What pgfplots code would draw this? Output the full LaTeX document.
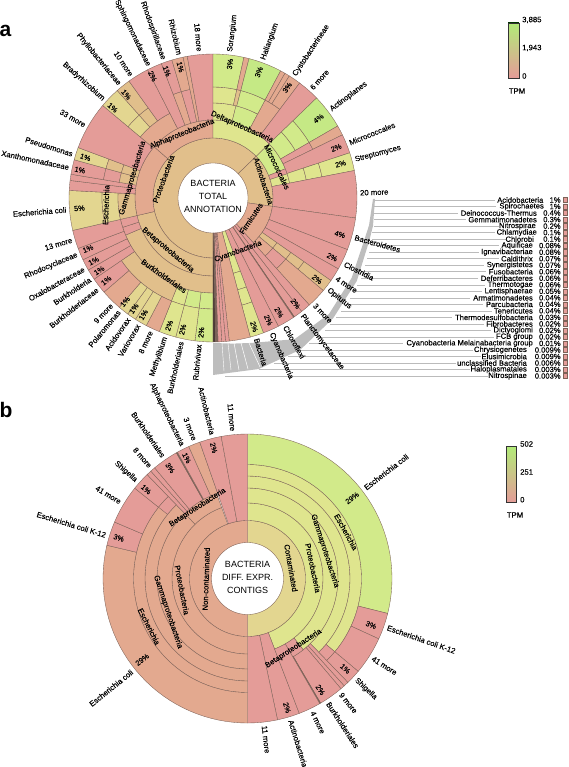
\documentclass[border=0pt]{standalone}
\usepackage{pgfplots}
\pgfplotsset{compat=1.18}
\usepackage{fontspec}
\setmainfont{Liberation Sans}
\newfontfamily\lf[FakeBold=0.2]{Liberation Sans}
\definecolor{ln}{HTML}{7D6258}
\definecolor{cR}{HTML}{E49C98}
\definecolor{cS}{HTML}{E3A98F}
\definecolor{cT}{HTML}{E1BF8B}
\definecolor{cK}{HTML}{E3D690}
\definecolor{cY}{HTML}{DFE58E}
\definecolor{cG}{HTML}{D2EA8A}
\definecolor{cB}{HTML}{C5E985}
\definecolor{gr}{HTML}{BDBDBD}
\definecolor{lg}{HTML}{BBBBBB}
\tikzset{lab/.style={inner sep=0pt,font=\lf\fontsize{7.7}{8}\selectfont},
 pc/.style={inner sep=0pt,font=\lf\fontsize{7.4}{8}\selectfont}}
\newcommand\Wg[5]{%
 \pgfmathsetmacro\nn{int(max(1,ceil(abs(#2-#1)/3)))}%
 \gdef\cl{}%
 \foreach \i in {0,...,\nn}{%
  \pgfmathsetmacro\tht{#1+(#2-#1)/\nn*\i}%
  \pgfmathsetmacro\xx{\CX+#4*sin(\tht)}%
  \pgfmathsetmacro\yy{\CY-#4*cos(\tht)}%
  \xdef\cl{\cl (\xx,\yy)}}%
 \foreach \i in {0,...,\nn}{%
  \pgfmathsetmacro\tht{#2-(#2-#1)/\nn*\i}%
  \pgfmathsetmacro\xx{\CX+#3*sin(\tht)}%
  \pgfmathsetmacro\yy{\CY-#3*cos(\tht)}%
  \xdef\cl{\cl (\xx,\yy)}}%
 \pgfmathsetmacro\xx{\CX+#4*sin(#1)}%
 \pgfmathsetmacro\yy{\CY-#4*cos(#1)}%
 \xdef\cl{\cl (\xx,\yy)}%
 \edef\tmp{\noexpand\addplot[fill=#5,draw=ln,line width=.35pt,line join=round] coordinates {\cl};}\tmp}
\def\LR{147}
\newcommand\RR[2]{%
 \pgfmathsetmacro\xx{\CX+\LR*sin(#1)}\pgfmathsetmacro\yy{\CY-\LR*cos(#1)}%
 \edef\tmp{\noexpand\node[lab,anchor=west,rotate={90-#1}] at (axis cs:\xx,\yy) {\unexpanded{#2}};}\tmp}
\newcommand\RL[2]{%
 \pgfmathsetmacro\xx{\CX+\LR*sin(#1)}\pgfmathsetmacro\yy{\CY-\LR*cos(#1)}%
 \edef\tmp{\noexpand\node[lab,anchor=east,rotate={270-#1}] at (axis cs:\xx,\yy) {\unexpanded{#2}};}\tmp}
\newcommand\PR[3]{%
 \pgfmathsetmacro\xx{\CX+#2*sin(#1)}\pgfmathsetmacro\yy{\CY-#2*cos(#1)}%
 \edef\tmp{\noexpand\node[pc,rotate={90-#1}] at (axis cs:\xx,\yy) {#3\noexpand\%};}\tmp}
\newcommand\PL[3]{%
 \pgfmathsetmacro\xx{\CX+#2*sin(#1)}\pgfmathsetmacro\yy{\CY-#2*cos(#1)}%
 \edef\tmp{\noexpand\node[pc,rotate={270-#1}] at (axis cs:\xx,\yy) {#3\noexpand\%};}\tmp}
\newcommand\Nd[4]{\node[lab,rotate=#3] at (axis cs:#1,#2) {#4};}
\newcommand\Ro[7]{% y, line start, line end, name right, name, pct
 \addplot[lg,line width=.5pt] coordinates {(#2,#1) (#3,#1)};
 \node[lab,anchor=east,font=\lf\fontsize{7.6}{8}\selectfont] at (axis cs:#4,#1) {#5};
 \node[lab,anchor=east,font=\lf\fontsize{7.6}{8}\selectfont] at (axis cs:560.8,#1) {#6\%};
 \addplot[fill=cR,draw=ln,line width=.4pt] coordinates {(563.4,#1-2.6) (567.4,#1-2.6) (567.4,#1+2.6) (563.4,#1+2.6) (563.4,#1-2.6)};}
\begin{document}
\begin{tikzpicture}
\useasboundingbox (0,0) rectangle (568pt,767pt);
\begin{axis}[at={(0,0)},anchor=south west,scale only axis,width=568pt,height=767pt,
 xmin=0,xmax=568,ymin=0,ymax=767,y dir=reverse,hide axis,clip=false,no markers]
% grey band of hidden labels
\addplot[fill=gr,draw=none] coordinates {(375,199) (373,225.8) (369.5,240) (356.8,281) (333.2,318.2) (300.5,349.6) (258.8,369) (213,375)
 (213,343) (233.4,343.6) (251.9,342.9) (294.5,339.2) (329,314) (351.6,278) (364.7,238.7) (369,225.4) (373,199) (375,199)};
\addplot[white,line width=.4pt] coordinates {(222,343) (224,371)};
\addplot[white,line width=.4pt] coordinates {(228,343) (231,370)};
\addplot[white,line width=.5pt] coordinates {(234,343) (239,370)};
\addplot[white,line width=.5pt] coordinates {(241,343) (248,369)};
\addplot[white,line width=.5pt] coordinates {(249,343) (260,367)};
% list of the small groups
\Ro{200.0}{374}{495}{543.5}{Acidobacteria}{1}{}
\Ro{206.5}{374}{496}{544}{Spirochaetes}{1}{}
\Ro{213.0}{373}{458}{537}{Deinococcus-Thermus}{0.4}{}
\Ro{219.6}{374}{466}{537}{Gemmatimonadetes}{0.3}{}
\Ro{226.1}{374}{499}{536}{Nitrospirae}{0.2}{}
\Ro{232.6}{372}{495}{537}{Chlamydiae}{0.1}{}
\Ro{239.1}{372}{506}{534}{Chlorobi}{0.1}{}
\Ro{245.6}{371}{499}{533}{Aquificae}{0.08}{}
\Ro{252.2}{369}{479}{533}{Ignavibacteriae}{0.08}{}
\Ro{258.7}{367}{499}{533}{Caldithrix}{0.07}{}
\Ro{265.2}{365}{484}{533}{Synergistetes}{0.07}{}
\Ro{271.7}{363}{486}{533}{Fusobacteria}{0.06}{}
\Ro{278.2}{361}{478}{533}{Deferribacteres}{0.06}{}
\Ro{284.8}{357}{485}{533}{Thermotogae}{0.06}{}
\Ro{291.3}{354}{482}{533}{Lentisphaerae}{0.05}{}
\Ro{297.8}{350}{470}{533}{Armatimonadetes}{0.04}{}
\Ro{304.3}{346}{483}{533}{Parcubacteria}{0.04}{}
\Ro{310.8}{341}{492}{533}{Tenericutes}{0.04}{}
\Ro{317.4}{336}{452}{533}{Thermodesulfobacteria}{0.03}{}
\Ro{323.9}{330}{484}{533}{Fibrobacteres}{0.02}{}
\Ro{330.4}{325}{491}{533}{Dictyoglomi}{0.02}{}
\Ro{336.9}{316}{494}{533}{FCB group}{0.02}{}
\Ro{343.4}{309}{403}{533}{Cyanobacteria Melainabacteria group}{0.01}{}
\Ro{350.0}{300}{473}{527}{Chrysiogenetes}{0.009}{}
\Ro{356.5}{288}{481}{527}{Elusimicrobia}{0.009}{}
\Ro{363.0}{274}{456}{527}{unclassified Bacteria}{0.006}{}
\Ro{369.5}{259}{470}{527}{Haloplasmatales}{0.003}{}
\Ro{376.0}{225}{488}{527}{Nitrospinae}{0.003}{}
%%%%%%%%%%%%%% chart a
\def\CX{213}\def\CY{198}
\Wg{180}{406}{35}{60}{cT}
\Wg{46}{98}{35}{60}{cT}
\Wg{98}{138}{35}{60}{cS}
% Beta
\Wg{180}{257}{60}{78}{cT}
\Wg{257}{311}{60}{78}{cS}
\Wg{311}{360}{60}{78}{cS}
\Wg{180}{247}{78}{95}{cT}
\Wg{247}{252}{78}{95}{cR}
\Wg{252}{257}{78}{95}{cR}
\Wg{180}{187.2}{95}{111}{cG}
\Wg{187.2}{195}{95}{111}{cG}
\Wg{195}{202}{95}{111}{cY}
\Wg{202}{235.7}{95}{111}{cT}
\Wg{180}{187.2}{111}{144}{cG}
\Wg{187.2}{195}{111}{144}{cY}
\Wg{195}{201.9}{111}{144}{cY}
\Wg{201.9}{207.6}{111}{144}{cS}
\Wg{207.6}{212.6}{111}{144}{cK}
\Wg{212.6}{216.3}{111}{144}{cK}
\Wg{216.3}{220.6}{111}{144}{cK}
\Wg{220.6}{229.2}{111}{144}{cS}
\Wg{229.2}{235.7}{111}{144}{cR}
\Wg{235.7}{240}{95}{144}{cR}
\Wg{240}{244.6}{95}{144}{cR}
\Wg{244.6}{249.5}{95}{144}{cR}
\Wg{249.5}{257}{95}{144}{cR}
% Gamma
\Wg{257}{273}{111}{144}{cK}
\Wg{257}{273}{95}{111}{cK}
\Wg{257}{273}{78}{95}{cT}
\Wg{273}{277}{78}{144}{cR}
\Wg{277}{279.5}{78}{144}{cR}
\Wg{279.5}{285.4}{111}{144}{cR}
\Wg{279.5}{285.4}{95}{111}{cR}
\Wg{279.5}{285.4}{78}{95}{cT}
\Wg{285.4}{290.5}{111}{144}{cK}
\Wg{285.4}{290.5}{95}{111}{cT}
\Wg{285.4}{290.5}{78}{95}{cT}
\Wg{290.5}{310}{78}{144}{cR}
% Alpha
\Wg{310}{333}{78}{95}{cS}
\Wg{310}{318.3}{95}{111}{cK}
\Wg{318.3}{324.3}{95}{111}{cT}
\Wg{310}{318.3}{111}{144}{cK}
\Wg{318.3}{324.3}{111}{144}{cT}
\Wg{324.3}{333}{95}{144}{cR}
\Wg{333}{339}{78}{144}{cR}
\Wg{339}{343.4}{78}{111}{cS}
\Wg{339}{343.4}{111}{144}{cR}
\Wg{343.4}{348}{78}{111}{cR}
\Wg{343.4}{348}{111}{144}{cS}
\Wg{348}{349.7}{78}{144}{cS}
\Wg{349.7}{360}{78}{144}{cR}
% Delta
\Wg{0}{46}{60}{78}{cY}
\Wg{0}{14}{78}{95}{cY}
\Wg{14}{28}{78}{95}{cG}
\Wg{28}{37}{78}{111}{cS}
\Wg{0}{12.4}{95}{111}{cY}
\Wg{12.4}{14.5}{95}{111}{cT}
\Wg{14.5}{28}{95}{111}{cG}
\Wg{0}{12.4}{111}{144}{cG}
\Wg{12.4}{14.5}{111}{144}{cS}
\Wg{14.5}{28}{111}{144}{cB}
\Wg{28}{30}{111}{144}{cS}
\Wg{30}{32}{111}{144}{cS}
\Wg{32}{37}{111}{144}{cS}
\Wg{37}{46}{78}{144}{cR}
% Actino
\Wg{46}{68}{60}{78}{cG}
\Wg{68}{72}{60}{78}{cR}
\Wg{72}{79}{60}{78}{cY}
\Wg{46}{60}{78}{95}{cG}
\Wg{46}{60}{95}{111}{cG}
\Wg{46}{60}{111}{144}{cB}
\Wg{60}{64}{78}{111}{cR}
\Wg{60}{64}{111}{144}{cS}
\Wg{64}{71.7}{78}{144}{cR}
\Wg{71.7}{79}{78}{95}{cY}
\Wg{71.7}{79}{95}{111}{cY}
\Wg{71.7}{79}{111}{144}{cY}
\Wg{79}{98}{60}{144}{cR}
% rest
\Wg{98}{111}{60}{144}{cR}
\Wg{111}{119.5}{60}{144}{cR}
\Wg{119.5}{125}{60}{144}{cR}
\Wg{125}{130}{60}{78}{cT}
\Wg{125}{130}{78}{95}{cT}
\Wg{125}{130}{95}{111}{cT}
\Wg{125}{130}{111}{144}{cT}
\Wg{130}{138}{60}{78}{cS}
\Wg{130}{138}{78}{95}{cR}
\Wg{130}{138}{95}{144}{cS}
\Wg{138}{142}{35}{144}{cR}
\Wg{142}{145.6}{35}{144}{cR}
\Wg{145.6}{146}{60}{144}{ln}
\Wg{145.6}{146}{35}{60}{cR}
\Wg{146}{153}{35}{144}{cR}
\Wg{153}{159.5}{35}{144}{cR}
\Wg{159.5}{165}{35}{78}{cY}
\Wg{159.5}{165}{78}{95}{cY}
\Wg{159.5}{165}{95}{111}{cY}
\Wg{159.5}{165}{111}{144}{cY}
\Wg{165}{173.5}{35}{144}{cS}
\Wg{173.5}{175}{35}{144}{cR}
\Wg{175}{176.5}{35}{144}{cR}
\Wg{176.5}{178}{35}{144}{cR}
\Wg{178}{179}{35}{144}{ln}
\Wg{179}{180}{35}{144}{ln!60!black}
% labels a
\RL{346.8}{Rhizobium}\RL{340.3}{Rhodospirillaceae}\RL{334}{Sphingomonadaceae}\RL{326.3}{10 more}
\RL{320.5}{Phyllobacteriaceae}\RL{312}{Bradyrhizobium}\RL{299.6}{33 more}\RL{287.4}{Pseudomonas}
\RL{282}{Xanthomonadaceae}\RL{265.4}{Escherichia coli}\RL{253.4}{13 more}\RL{247.3}{Rhodocyclaceae}
\RL{241.2}{Oxalobacteraceae}\RL{236.5}{Burkholderia}\RL{231.7}{Burkholderiaceae}\RL{223.5}{9 more}
\RL{219.7}{Polaromonas}\RL{215}{Acidovorax}\RL{210.5}{Variovorax}\RL{205}{8 more}
\RL{198.9}{Methylibium}\RL{192.5}{Burkholderiales}\RL{185.5}{Rubrivivax}\RL{354.7}{18 more}
\RR{6.7}{Sorangium}\RR{19.9}{Haliangium}\RR{33.6}{Cystobacterineae}\RR{42}{6 more}
\RR{53.2}{Actinoplanes}\RR{68}{Micrococcales}\RR{75}{Streptomyces}\RR{88}{20 more}
\RR{105.5}{Bacteroidetes}\RR{116.6}{Clostridia}\RR{123}{4 more}\RR{128.5}{Opitutus}
\RR{136.4}{3 more}\RR{142.8}{Planctomycetaceae}\RR{150.6}{Chloroflexi}\RR{156.6}{Cyanobacteria}\RR{162.8}{Bacteria}
\PR{7.2}{135}{3}\PR{20}{134}{3}\PR{33.9}{133}{3}\PR{53}{132}{4}\PR{67.8}{133}{2}\PR{75}{132}{2}
\PR{106}{132}{4}\PR{116.4}{133}{2}\PR{128}{132}{2}\PR{142}{134}{2}\PR{150}{132}{2}\PR{155.6}{134}{2}\PR{162.3}{135}{2}
\PL{199}{135}{2}\PL{193}{135}{2}\PL{185}{135}{2}
\PL{210.8}{136}{1}\PL{215.6}{136}{1}\PL{220.3}{136}{1}
\PL{232.3}{135}{1}\PL{237.5}{135}{1}\PL{242.2}{135}{1}\PL{247.9}{135}{1}
\PL{265.6}{134}{5}\PL{281.9}{136}{1}\PL{287.7}{134}{1}\PL{312}{135}{1}\PL{320}{135}{1}\PL{333.6}{136}{2}\PL{340}{135}{1}\PL{346}{135}{1}
\Nd{182}{134}{22}{Alphaproteobacteria}
\Nd{242}{127}{-24}{Deltaproteobacteria}
\Nd{277}{167}{-64}{Micrococcales}
\Nd{263.5}{181}{-72}{Actinobacteria}
\Nd{251}{218.5}{56}{Firmicutes}
\Nd{238}{251.5}{20}{Cyanobacteria}
\Nd{163.5}{179}{70}{Proteobacteria}
\Nd{132.5}{178}{73.5}{Gammaproteobacteria}
\Nd{106}{205}{88}{Escherichia}
\Nd{168}{250}{-40}{Betaproteobacteria}
\Nd{164}{276}{-35}{Burkholderiales}
\node[inner sep=0pt,font=\fontsize{9}{10}\selectfont] at (axis cs:213,183.5) {BACTERIA};
\node[inner sep=0pt,font=\fontsize{9}{10}\selectfont] at (axis cs:213,196.5) {TOTAL};
\node[inner sep=0pt,font=\fontsize{9}{10}\selectfont] at (axis cs:213,209.5) {ANNOTATION};
%%%%%%%%%%%%%% chart b
\def\CX{247.5}\def\CY{578.5}
\Wg{0}{180}{36}{58}{cK}
\Wg{0}{159}{58}{75.5}{cY}
\Wg{159}{168}{58}{144.5}{cR}
\Wg{168}{180}{58}{144.5}{cR}
\Wg{0}{142}{75.5}{90.5}{cY}
\Wg{0}{136}{90.5}{102.5}{cY}
\Wg{0}{130}{102.5}{114}{cY}
\Wg{0}{104}{114}{144.5}{cG}
\Wg{104}{114.7}{114}{144.5}{cR}
\Wg{114.7}{130}{114}{144.5}{cR}
\Wg{130}{136}{102.5}{114}{cR}
\Wg{130}{136}{114}{144.5}{cR}
\Wg{136}{138}{90.5}{144.5}{cR}
\Wg{138}{139.7}{90.5}{144.5}{cR}
\Wg{139.7}{149.6}{90.5}{144.5}{cR}
\Wg{142}{150}{75.5}{90.5}{cR}
\Wg{149.6}{150}{90.5}{144.5}{ln}
\Wg{150}{159}{75.5}{144.5}{cR}
% left half
\Wg{180}{360}{36}{58}{cS}
\Wg{180}{340}{58}{75.5}{cS}
\Wg{180}{316}{75.5}{90.5}{cS}
\Wg{180}{316}{90.5}{102.5}{cS}
\Wg{180}{309}{102.5}{114}{cS}
\Wg{180}{283.3}{114}{144.5}{cS}
\Wg{283.3}{293}{114}{144.5}{cR}
\Wg{293}{308.7}{114}{144.5}{cR}
\Wg{308.7}{316}{114}{144.5}{cR}
\Wg{308.7}{316}{102.5}{114}{cR}
\Wg{316}{340}{75.5}{90.5}{cS}
\Wg{316}{318}{90.5}{144.5}{cR}
\Wg{318}{320}{90.5}{144.5}{cR}
\Wg{320}{330.5}{90.5}{144.5}{cR}
\Wg{330.5}{331}{90.5}{144.5}{ln}
\Wg{331}{336}{90.5}{144.5}{cR}
\Wg{336}{340.7}{90.5}{144.5}{cS}
\Wg{340.7}{349.5}{58}{144.5}{cR}
\Wg{349.5}{360}{58}{144.5}{cR}
\def\LR{148}
\RR{52.5}{Escherichia coli}\RR{109.3}{Escherichia coli K-12}\RR{122.5}{41 more}\RR{133}{Shigella}
\RR{141}{9 more}\RR{147}{Burkholderiales}\RR{154}{4 more}\RR{163}{Actinobacteria}\RR{173.5}{11 more}
\RL{231.2}{Escherichia coli}\RL{287}{Escherichia coli K-12}\RL{301}{41 more}\RL{311.3}{Shigella}
\RL{319}{8 more}\RL{325.4}{Burkholderiales}\RL{333.8}{Alphaproteobacteria}\RL{339}{3 more}\RL{346.3}{Actinobacteria}\RL{354.3}{11 more}
\PR{52.4}{132}{29}\PR{110.6}{132}{3}\PR{132.7}{133}{1}\PR{146.8}{133}{2}\PR{163}{135}{2}
\PL{232.4}{133}{29}\PL{287.5}{135}{3}\PL{311.3}{135}{1}\PL{325}{135}{3}\PL{333.2}{135}{1}\PL{345.5}{135}{2}
\Nd{291}{568}{-80}{Contaminated}
\Nd{313}{568}{-78}{Proteobacteria}
\Nd{325}{551}{-72}{Gammaproteobacteria}
\Nd{346}{532}{-61}{Escherichia}
\Nd{293.5}{648.5}{33}{Betaproteobacteria}
\Nd{206}{579}{88}{Non-contaminated}
\Nd{182}{590}{-79}{Proteobacteria}
\Nd{168}{612}{-71.5}{Gammaproteobacteria}
\Nd{149}{626.5}{-63}{Escherichia}
\Nd{197.5}{507.5}{32.5}{Betaproteobacteria}
\node[inner sep=0pt,font=\fontsize{9}{10}\selectfont] at (axis cs:247.5,564.5) {BACTERIA};
\node[inner sep=0pt,font=\fontsize{9}{10}\selectfont] at (axis cs:247.5,577.5) {DIFF. EXPR.};
\node[inner sep=0pt,font=\fontsize{9}{10}\selectfont] at (axis cs:247.5,590.5) {CONTIGS};
%%%%%%%%%%%%%% colour keys
\shade[top color=cB!90!green,middle color=cK,bottom color=cR] (axis cs:508,23) rectangle (axis cs:519,78);
\draw[black!80,line width=.5pt] (axis cs:508,23) rectangle (axis cs:519,78);
\draw[black!50!green!40!black,line width=1pt] (axis cs:508,23) -- (axis cs:519,23);
\node[lab,anchor=west] at (axis cs:522,20) {3,885};
\node[lab,anchor=west] at (axis cs:522,48) {1,943};
\node[lab,anchor=west] at (axis cs:522,76) {0};
\node[lab] at (axis cs:517,91) {TPM};
\shade[top color=cB!90!green,middle color=cK,bottom color=cR] (axis cs:506.7,446) rectangle (axis cs:516.7,502.3);
\draw[black!80,line width=.5pt] (axis cs:506.7,446) rectangle (axis cs:516.7,502.3);
\node[lab,anchor=west] at (axis cs:520,444) {502};
\node[lab,anchor=west] at (axis cs:520,472) {251};
\node[lab,anchor=west] at (axis cs:520,499.7) {0};
\node[lab] at (axis cs:515,515) {TPM};
\node[inner sep=0pt,font=\fontsize{21}{22}\bfseries\selectfont] at (axis cs:5.5,31) {a};
\node[inner sep=0pt,font=\fontsize{21}{22}\bfseries\selectfont] at (axis cs:6,410) {b};
\end{axis}
\end{tikzpicture}
\end{document}
